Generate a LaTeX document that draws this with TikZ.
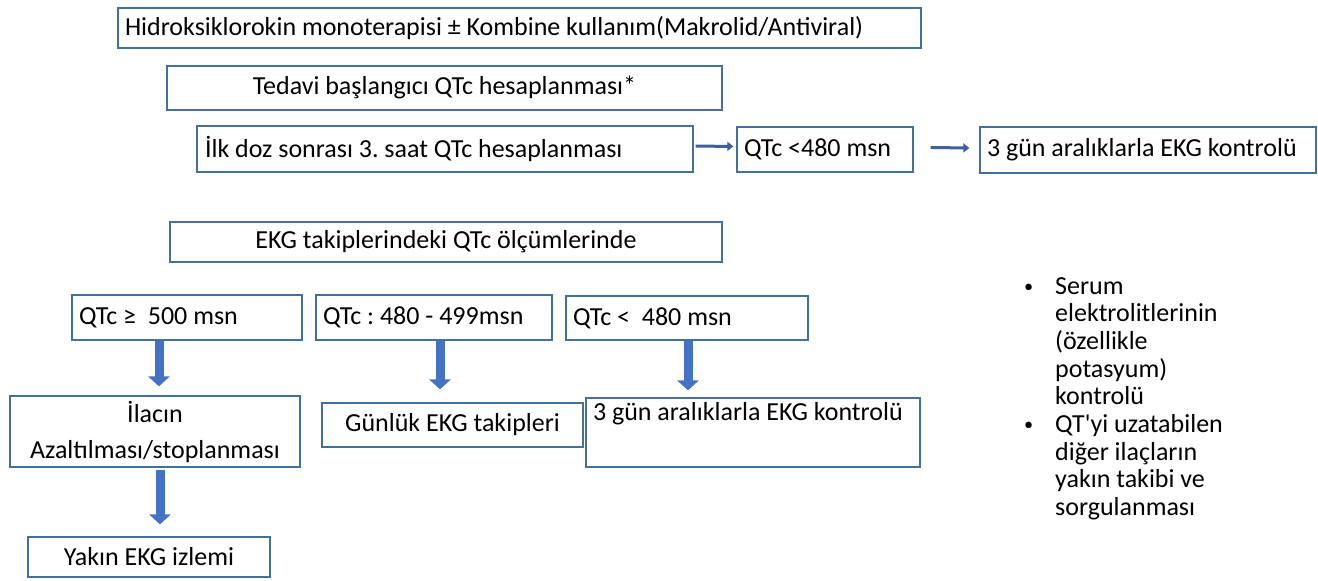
\documentclass[tikz,border=0pt]{standalone}
\usepackage{fontspec}
\setmainfont{Carlito}[Ligatures=TeXOff]
\usetikzlibrary{arrows.meta}
\definecolor{boxc}{HTML}{41719C}
\definecolor{arrc}{HTML}{4472C4}
\definecolor{harc}{HTML}{3F5F9F}
\frenchspacing
\tikzset{
  box/.style={draw=boxc, line width=1.2pt, fill=white, inner xsep=7pt, inner ysep=0pt,
    font=\fontsize{26}{36}\selectfont},
  varrow/.style={draw=arrc, line width=9pt, -{Triangle[width=21pt,length=10pt]}},
  harrow/.style={draw=harc, line width=3pt, -{Triangle[width=9pt,length=6pt]}},
}
\newcommand{\lft}[2]{\makebox[#1][l]{#2}}
\newcommand{\smbul}{\lft{33pt}{\hspace*{2pt}\raisebox{2pt}{\scalebox{0.7}{•}}}}
\begin{document}
\begin{tikzpicture}[x=1pt,y=-1pt]
\useasboundingbox[fill=white] (0,0) rectangle (1318,581);

\node[box, minimum width=803, minimum height=40] (b1) at (519.5,28)
  {\raisebox{-2pt}{\lft{789pt}{Hidroksiklorokin monoterapisi ± Kombine kullanım(Makrolid/Antiviral)}}};
\node[box, minimum width=555, minimum height=44, align=center] (b2) at (444.5,88)
  {Tedavi başlangıcı QTc hesaplanması*};
\node[box, minimum width=496, minimum height=46] (b3) at (445,149)
  {\lft{480pt}{İlk doz sonrası 3. saat QTc hesaplanması}};
\node[box, minimum width=176, minimum height=45] (b4) at (825,149.5)
  {\lft{162pt}{QTc <480 msn}};
\node[box, minimum width=336, minimum height=46] (b5) at (1148,150)
  {\lft{322pt}{3 gün aralıklarla EKG kontrolü}};
\node[box, minimum width=552, minimum height=40, align=center] (b6) at (446,242)
  {EKG takiplerindeki QTc ölçümlerinde};
\node[box, minimum width=230, minimum height=45] (b7) at (187,317.5)
  {\lft{216pt}{QTc ≥\ \ 500 msn}};
\node[box, minimum width=236, minimum height=45] (b8) at (434,317.5)
  {\lft{222pt}{QTc : 480 - 499msn}};
\node[box, minimum width=242, minimum height=44] (b9) at (687,318)
  {\lft{228pt}{QTc <\ \ 480 msn}};
\node[box, minimum width=290, minimum height=71, align=center] (b10) at (155,431.5)
  {İlacın\\Azaltılması/stoplanması};
\node[box, minimum width=261, minimum height=44, align=center] (b11) at (452.5,425)
  {Günlük EKG takipleri};
\node[box, minimum width=334, minimum height=69] (b12) at (753,432.5)
  {\raisebox{12.5pt}[0pt][0pt]{\lft{320pt}{3 gün aralıklarla EKG kontrolü}}};
\node[box, minimum width=242, minimum height=40, align=center] (b13) at (149,557)
  {Yakın EKG izlemi};

\node[anchor=north west, inner sep=0pt, align=left, font=\fontsize{26}{27.7}\selectfont] (notes) at (1022,277)
  {\smbul Serum\\
   \hspace*{33pt}elektrolitlerinin\\
   \hspace*{33pt}(özellikle\\
   \hspace*{33pt}potasyum)\\
   \hspace*{33pt}kontrolü\\
   \smbul QT'yi uzatabilen\\
   \hspace*{33pt}diğer ilaçların\\
   \hspace*{33pt}yakın takibi ve\\
   \hspace*{33pt}sorgulanması};

\draw[harrow] ([xshift=2pt,yshift=3pt]b3.east) -- ([xshift=-3pt,yshift=3pt]b4.west);
\draw[harrow] ([xshift=17pt,yshift=2pt]b4.east) -- ([xshift=-10pt,yshift=2pt]b5.west);

\draw[varrow, shorten >=9pt] ([xshift=-28pt]b7.south) -- ([xshift=-28pt]b7.south |- b10.north);
\draw[varrow, shorten >=13pt] ([xshift=6pt]b8.south) -- ([xshift=6pt]b8.south |- b11.north);
\draw[varrow, shorten >=7pt] ([xshift=1pt]b9.south) -- ([xshift=1pt]b9.south |- b12.north);
\draw[varrow, shorten <=2pt, shorten >=12pt] ([xshift=5pt]b10.south) -- ([xshift=5pt]b10.south |- b13.north);
\end{tikzpicture}
\end{document}
